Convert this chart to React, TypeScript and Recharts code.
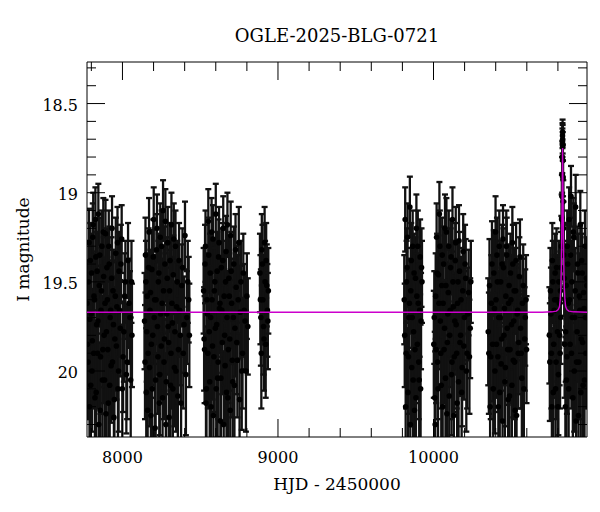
import React from "react";
import { ComposedChart, Scatter, Line, XAxis, YAxis, ErrorBar } from "recharts";

// [HJD - 2450000, I mag, error]
type Obs = [number, number, number];

const season2017: Obs[] = [
  [7772, 19.62, 0.24], [7779, 19.95, 0.32], [7785, 19.28, 0.19], [7790, 19.71, 0.26],
  [7796, 20.08, 0.34], [7801, 19.45, 0.22], [7806, 19.83, 0.29], [7812, 19.18, 0.18],
  [7817, 19.58, 0.24], [7823, 20.15, 0.36], [7829, 19.36, 0.21], [7834, 19.74, 0.27],
  [7840, 19.9, 0.31], [7845, 19.12, 0.17], [7851, 19.52, 0.23], [7857, 20.22, 0.38],
  [7862, 19.66, 0.25], [7868, 19.3, 0.2], [7874, 19.88, 0.3], [7879, 19.47, 0.22],
  [7885, 20.05, 0.34], [7891, 19.23, 0.19], [7897, 19.78, 0.28], [7903, 19.6, 0.24],
  [7909, 20.18, 0.37], [7915, 19.4, 0.21], [7921, 19.7, 0.26], [7927, 19.97, 0.32],
  [7933, 19.2, 0.18], [7939, 19.55, 0.23], [7945, 20.26, 0.39], [7951, 19.82, 0.29],
  [7957, 19.34, 0.2], [7964, 19.64, 0.25], [7971, 20.1, 0.35], [7978, 19.44, 0.22],
  [7986, 19.76, 0.27], [7995, 19.26, 0.19], [8004, 19.92, 0.31], [8014, 19.58, 0.24],
  [8025, 20.02, 0.33], [8036, 19.38, 0.21], [8048, 19.7, 0.26], [8058, 19.5, 0.23],
  [7775, 19.85, 0.3], [7782, 19.5, 0.23], [7788, 20.2, 0.39], [7793, 19.38, 0.21],
  [7799, 19.68, 0.26], [7804, 20.0, 0.34], [7809, 19.25, 0.19], [7815, 19.9, 0.31],
  [7820, 19.6, 0.25], [7826, 19.15, 0.18], [7831, 20.12, 0.37], [7837, 19.44, 0.22],
  [7842, 19.72, 0.27], [7848, 20.3, 0.41], [7854, 19.35, 0.21], [7859, 19.92, 0.32],
  [7865, 19.55, 0.24], [7871, 20.05, 0.35], [7877, 19.22, 0.19], [7882, 19.8, 0.29],
  [7888, 19.62, 0.25], [7894, 20.24, 0.4], [7900, 19.42, 0.22], [7906, 19.88, 0.3],
  [7912, 19.3, 0.2], [7918, 20.08, 0.36], [7924, 19.66, 0.26], [7930, 19.48, 0.23],
  [7936, 19.95, 0.32], [7942, 19.74, 0.27], [7948, 20.16, 0.38], [7954, 19.58, 0.24],
  [7961, 19.86, 0.3], [7968, 19.28, 0.2], [7975, 20.0, 0.34], [7982, 19.66, 0.26],
  [7990, 19.4, 0.22], [7999, 20.1, 0.36], [8009, 19.78, 0.28], [8019, 19.5, 0.23],
  [8030, 19.95, 0.32], [8042, 19.62, 0.25], [8053, 20.05, 0.35], [8061, 19.8, 0.29],
];

const season2018: Obs[] = [
  [8142, 19.72, 0.27], [8148, 19.35, 0.21], [8153, 20.12, 0.36], [8159, 19.58, 0.24],
  [8165, 19.9, 0.31], [8171, 19.22, 0.19], [8177, 19.66, 0.25], [8183, 20.25, 0.38],
  [8189, 19.43, 0.22], [8195, 19.8, 0.28], [8201, 19.15, 0.18], [8207, 19.6, 0.24],
  [8213, 20.05, 0.34], [8219, 19.32, 0.2], [8225, 19.75, 0.27], [8231, 19.5, 0.23],
  [8237, 20.18, 0.37], [8243, 19.25, 0.19], [8249, 19.86, 0.3], [8255, 19.62, 0.25],
  [8261, 19.1, 0.17], [8267, 19.95, 0.32], [8273, 19.4, 0.21], [8279, 20.3, 0.4],
  [8285, 19.68, 0.26], [8291, 19.28, 0.2], [8297, 19.84, 0.29], [8303, 19.55, 0.23],
  [8309, 20.08, 0.35], [8315, 19.18, 0.18], [8321, 19.73, 0.27], [8327, 19.46, 0.22],
  [8334, 19.98, 0.33], [8341, 19.3, 0.2], [8348, 19.64, 0.25], [8356, 20.14, 0.36],
  [8364, 19.38, 0.21], [8372, 19.8, 0.28], [8381, 19.52, 0.23], [8391, 19.9, 0.31],
  [8402, 19.24, 0.19], [8414, 19.7, 0.26], [8426, 19.6, 0.24],
  [8145, 19.95, 0.32], [8151, 19.5, 0.23], [8156, 19.78, 0.28], [8162, 20.22, 0.39],
  [8168, 19.42, 0.22], [8174, 19.98, 0.33], [8180, 19.56, 0.24], [8186, 19.85, 0.3],
  [8192, 20.1, 0.36], [8198, 19.36, 0.21], [8204, 19.7, 0.26], [8210, 20.32, 0.42],
  [8216, 19.6, 0.25], [8222, 19.2, 0.19], [8228, 19.92, 0.32], [8234, 19.45, 0.22],
  [8240, 20.02, 0.34], [8246, 19.68, 0.26], [8252, 19.3, 0.2], [8258, 20.15, 0.37],
  [8264, 19.55, 0.24], [8270, 19.82, 0.29], [8276, 19.16, 0.18], [8282, 20.06, 0.35],
  [8288, 19.48, 0.23], [8294, 19.75, 0.27], [8300, 20.26, 0.4], [8306, 19.38, 0.21],
  [8312, 19.9, 0.31], [8318, 19.62, 0.25], [8324, 20.1, 0.36], [8330, 19.26, 0.2],
  [8337, 19.78, 0.28], [8344, 20.0, 0.34], [8352, 19.5, 0.23], [8360, 19.88, 0.3],
  [8368, 19.66, 0.26], [8377, 20.18, 0.38], [8386, 19.42, 0.22], [8396, 19.74, 0.27],
  [8408, 20.02, 0.34], [8420, 19.5, 0.23], [8430, 19.8, 0.29],
];

const season2019: Obs[] = [
  [8522, 19.55, 0.24], [8528, 19.88, 0.3], [8534, 19.3, 0.2], [8540, 20.1, 0.35],
  [8546, 19.68, 0.26], [8552, 19.16, 0.18], [8558, 19.78, 0.28], [8564, 19.45, 0.22],
  [8570, 20.2, 0.38], [8576, 19.6, 0.24], [8582, 19.26, 0.19], [8588, 19.92, 0.31],
  [8594, 19.5, 0.23], [8600, 19.12, 0.17], [8606, 19.74, 0.27], [8612, 20.04, 0.33],
  [8618, 19.36, 0.21], [8624, 19.65, 0.25], [8630, 20.28, 0.39], [8636, 19.42, 0.22],
  [8642, 19.84, 0.29], [8648, 19.2, 0.18], [8654, 19.58, 0.24], [8660, 19.97, 0.32],
  [8666, 19.33, 0.2], [8672, 19.7, 0.26], [8678, 20.15, 0.36], [8684, 19.48, 0.23],
  [8690, 19.82, 0.29], [8696, 19.24, 0.19], [8702, 19.62, 0.25], [8709, 20.06, 0.34],
  [8716, 19.4, 0.21], [8723, 19.76, 0.27], [8731, 19.53, 0.23], [8739, 19.94, 0.32],
  [8748, 19.28, 0.2], [8757, 19.67, 0.26], [8767, 20.0, 0.33], [8777, 19.45, 0.22],
  [8788, 19.72, 0.27], [8800, 19.58, 0.24],
  [8525, 19.82, 0.29], [8531, 19.4, 0.22], [8537, 20.18, 0.38], [8543, 19.6, 0.25],
  [8549, 19.9, 0.31], [8555, 19.35, 0.21], [8561, 20.06, 0.35], [8567, 19.7, 0.26],
  [8573, 19.22, 0.19], [8579, 19.86, 0.3], [8585, 20.25, 0.4], [8591, 19.55, 0.24],
  [8597, 19.76, 0.27], [8603, 20.1, 0.36], [8609, 19.44, 0.22], [8615, 19.95, 0.32],
  [8621, 19.28, 0.2], [8627, 19.62, 0.25], [8633, 20.04, 0.34], [8639, 19.66, 0.26],
  [8645, 19.38, 0.21], [8651, 20.3, 0.41], [8657, 19.8, 0.28], [8663, 19.5, 0.23],
  [8669, 20.12, 0.36], [8675, 19.18, 0.18], [8681, 19.88, 0.3], [8687, 19.58, 0.24],
  [8693, 20.22, 0.39], [8699, 19.44, 0.22], [8706, 19.94, 0.32], [8713, 19.7, 0.26],
  [8720, 20.08, 0.35], [8727, 19.32, 0.2], [8735, 19.84, 0.29], [8744, 19.6, 0.25],
  [8753, 20.16, 0.37], [8762, 19.5, 0.23], [8772, 19.9, 0.31], [8783, 19.66, 0.26],
  [8794, 20.0, 0.34], [8806, 19.75, 0.27],
];

const season2020: Obs[] = [
  [8884, 19.45, 0.22], [8890, 19.7, 0.27], [8896, 19.32, 0.2], [8903, 19.6, 0.25],
  [8910, 19.82, 0.29], [8917, 19.5, 0.23], [8924, 19.38, 0.21], [8932, 19.66, 0.26],
  [8938, 19.55, 0.24],
  [8887, 19.6, 0.25], [8893, 19.9, 0.31], [8900, 19.4, 0.22], [8907, 19.75, 0.27],
  [8914, 19.28, 0.2], [8921, 19.85, 0.3], [8928, 19.52, 0.23], [8935, 19.72, 0.27],
];

const season2022: Obs[] = [
  [9812, 19.6, 0.25], [9818, 19.15, 0.18], [9824, 19.9, 0.31], [9830, 19.42, 0.22],
  [9836, 20.12, 0.36], [9842, 19.7, 0.27], [9848, 19.08, 0.17], [9854, 19.55, 0.24],
  [9860, 19.98, 0.33], [9866, 19.3, 0.2], [9872, 19.78, 0.28], [9878, 20.22, 0.38],
  [9884, 19.48, 0.23], [9890, 19.2, 0.19], [9896, 19.85, 0.3], [9902, 19.62, 0.25],
  [9908, 20.05, 0.34], [9914, 19.36, 0.21], [9920, 19.72, 0.27], [9926, 19.5, 0.23],
  [9815, 19.8, 0.29], [9821, 20.2, 0.39], [9827, 19.5, 0.23], [9833, 19.25, 0.19],
  [9839, 19.92, 0.32], [9845, 19.62, 0.25], [9851, 20.3, 0.41], [9857, 19.38, 0.21],
  [9863, 19.7, 0.26], [9869, 20.05, 0.35], [9875, 19.45, 0.22], [9881, 19.88, 0.3],
  [9887, 20.15, 0.37], [9893, 19.58, 0.24], [9899, 19.3, 0.2], [9905, 19.95, 0.32],
  [9911, 19.66, 0.26], [9917, 20.1, 0.36], [9923, 19.42, 0.22],
];

const season2023: Obs[] = [
  [10002, 19.85, 0.3], [10008, 20.15, 0.37], [10014, 19.58, 0.24], [10020, 19.25, 0.19],
  [10026, 19.95, 0.32], [10032, 19.46, 0.22], [10038, 19.12, 0.18], [10044, 19.72, 0.27],
  [10050, 20.08, 0.35], [10056, 19.35, 0.21], [10062, 19.62, 0.25], [10068, 19.88, 0.3],
  [10074, 19.2, 0.19], [10080, 19.52, 0.23], [10086, 20.24, 0.39], [10092, 19.68, 0.26],
  [10098, 19.3, 0.2], [10104, 19.8, 0.29], [10110, 19.42, 0.22], [10116, 20.02, 0.34],
  [10122, 19.15, 0.18], [10128, 19.64, 0.25], [10134, 19.92, 0.31], [10140, 19.38, 0.21],
  [10146, 19.74, 0.28], [10152, 20.18, 0.37], [10158, 19.5, 0.23], [10164, 19.27, 0.2],
  [10170, 19.84, 0.3], [10177, 19.6, 0.24], [10184, 19.98, 0.33], [10191, 19.33, 0.21],
  [10199, 19.7, 0.26], [10207, 19.48, 0.22], [10216, 19.9, 0.31], [10226, 19.56, 0.24],
  [10236, 19.76, 0.28],
  [10005, 19.7, 0.26], [10011, 20.3, 0.41], [10017, 19.88, 0.3], [10023, 19.45, 0.22],
  [10029, 20.1, 0.36], [10035, 19.62, 0.25], [10041, 19.3, 0.2], [10047, 19.9, 0.31],
  [10053, 19.52, 0.23], [10059, 20.2, 0.39], [10065, 19.4, 0.21], [10071, 19.76, 0.27],
  [10077, 20.04, 0.34], [10083, 19.22, 0.19], [10089, 19.84, 0.29], [10095, 19.56, 0.24],
  [10101, 20.14, 0.37], [10107, 19.66, 0.26], [10113, 19.36, 0.21], [10119, 19.95, 0.32],
  [10125, 19.5, 0.23], [10131, 20.25, 0.4], [10137, 19.72, 0.27], [10143, 19.28, 0.2],
  [10149, 19.9, 0.31], [10155, 19.62, 0.25], [10161, 20.06, 0.35], [10167, 19.44, 0.22],
  [10174, 19.8, 0.28], [10181, 20.12, 0.36], [10188, 19.55, 0.24], [10195, 19.86, 0.3],
  [10203, 19.4, 0.22], [10211, 20.0, 0.34], [10221, 19.68, 0.26], [10231, 19.92, 0.32],
  [10240, 19.5, 0.23],
];

const season2024: Obs[] = [
  [10352, 19.78, 0.3], [10360, 19.52, 0.26], [10368, 19.92, 0.35], [10376, 19.4, 0.24],
  [10384, 20.1, 0.38], [10392, 19.65, 0.27], [10399, 19.22, 0.2], [10405, 19.85, 0.3],
  [10411, 19.5, 0.23], [10417, 20.2, 0.38], [10423, 19.3, 0.2], [10429, 19.7, 0.26],
  [10435, 19.96, 0.32], [10441, 19.4, 0.22], [10447, 19.26, 0.19], [10453, 19.8, 0.28],
  [10459, 20.06, 0.35], [10465, 19.58, 0.24], [10471, 19.35, 0.21], [10477, 19.88, 0.31],
  [10483, 19.62, 0.25], [10489, 20.14, 0.36], [10495, 19.45, 0.22], [10501, 19.74, 0.27],
  [10507, 19.28, 0.2], [10513, 19.94, 0.32], [10519, 19.55, 0.24], [10525, 20.22, 0.38],
  [10531, 19.38, 0.21], [10538, 19.68, 0.26], [10545, 19.9, 0.31], [10552, 19.47, 0.22],
  [10560, 19.76, 0.28], [10568, 20.04, 0.34], [10577, 19.52, 0.23], [10586, 19.82, 0.29],
  [10595, 19.6, 0.25],
  [10356, 19.9, 0.34], [10364, 20.2, 0.4], [10372, 19.62, 0.27], [10380, 19.85, 0.32],
  [10388, 19.45, 0.24], [10395, 20.0, 0.35], [10402, 19.6, 0.25], [10408, 19.35, 0.21],
  [10414, 19.92, 0.31], [10420, 19.7, 0.26], [10426, 20.12, 0.37], [10432, 19.5, 0.23],
  [10438, 19.82, 0.29], [10444, 20.28, 0.41], [10450, 19.42, 0.22], [10456, 19.65, 0.26],
  [10462, 19.98, 0.33], [10468, 19.3, 0.2], [10474, 19.76, 0.28], [10480, 20.16, 0.37],
  [10486, 19.52, 0.23], [10492, 19.88, 0.3], [10498, 19.6, 0.25], [10504, 20.08, 0.35],
  [10510, 19.4, 0.22], [10516, 19.72, 0.27], [10522, 19.95, 0.32], [10528, 19.55, 0.24],
  [10534, 20.25, 0.4], [10541, 19.66, 0.26], [10548, 19.84, 0.29], [10556, 19.36, 0.21],
  [10564, 19.9, 0.31], [10572, 19.62, 0.25], [10581, 20.1, 0.36], [10590, 19.7, 0.27],
  [10598, 19.88, 0.3],
];

const season2025: Obs[] = [
  [10745, 19.8, 0.27], [10752, 19.55, 0.24], [10758, 19.9, 0.31], [10764, 19.38, 0.21],
  [10770, 20.12, 0.36], [10776, 19.66, 0.26], [10782, 19.45, 0.22], [10788, 19.95, 0.32],
  [10794, 19.6, 0.25], [10800, 20.2, 0.38], [10806, 19.5, 0.23], [10811, 19.8, 0.28],
  [10816, 19.55, 0.22], [10820, 19.42, 0.2], [10822, 19.3, 0.17], [10824, 19.15, 0.14],
  [10825.5, 19.02, 0.12], [10827, 18.9, 0.1], [10828, 18.8, 0.09], [10829, 18.72, 0.08],
  [10829.5, 18.68, 0.07], [10830, 18.66, 0.07], [10830.5, 18.7, 0.08], [10831, 18.74, 0.08],
  [10832, 18.82, 0.09], [10833, 18.92, 0.1], [10834.5, 19.05, 0.12], [10836, 19.2, 0.15],
  [10838, 19.35, 0.18], [10841, 19.48, 0.21], [10845, 19.6, 0.24], [10850, 19.78, 0.28],
  [10855, 20.05, 0.34], [10860, 19.3, 0.2], [10866, 19.62, 0.25], [10872, 19.15, 0.18],
  [10878, 19.85, 0.3], [10884, 19.02, 0.17], [10890, 19.5, 0.23], [10896, 20.15, 0.37],
  [10902, 19.25, 0.19], [10908, 19.7, 0.26], [10914, 19.08, 0.18], [10920, 19.95, 0.32],
  [10926, 19.4, 0.21], [10932, 20.25, 0.39], [10938, 19.58, 0.24], [10944, 19.18, 0.19],
  [10950, 19.82, 0.29], [10956, 19.45, 0.22], [10962, 20.08, 0.35], [10968, 19.65, 0.26],
  [10974, 19.3, 0.2], [10980, 19.9, 0.31], [10986, 19.52, 0.23],
  [10748, 19.95, 0.33], [10755, 19.68, 0.26], [10761, 20.2, 0.39], [10767, 19.5, 0.23],
  [10773, 19.85, 0.3], [10779, 19.6, 0.25], [10785, 20.1, 0.36], [10791, 19.42, 0.22],
  [10797, 19.78, 0.28], [10803, 20.02, 0.34], [10809, 19.62, 0.25], [10814, 19.9, 0.31],
  [10818, 19.7, 0.26], [10843, 19.85, 0.3], [10848, 20.2, 0.39], [10853, 19.52, 0.23],
  [10858, 19.92, 0.32], [10863, 19.4, 0.22], [10869, 20.1, 0.36], [10875, 19.6, 0.25],
  [10881, 19.35, 0.21], [10887, 19.9, 0.31], [10893, 19.7, 0.27], [10899, 19.22, 0.19],
  [10905, 20.0, 0.34], [10911, 19.55, 0.24], [10917, 20.28, 0.41], [10923, 19.78, 0.28],
  [10929, 19.45, 0.22], [10935, 19.95, 0.32], [10941, 19.66, 0.26], [10947, 20.12, 0.36],
  [10953, 19.38, 0.21], [10959, 19.84, 0.29], [10965, 19.56, 0.24], [10971, 20.05, 0.35],
  [10977, 19.7, 0.27], [10983, 19.48, 0.23],
];

// microlensing model (magenta curve)
const modelTimes = [
  7772, 10700, 10760, 10790, 10802, 10810, 10815, 10819, 10822, 10824, 10826, 10828, 10830,
  10832, 10834, 10836, 10838, 10841, 10845, 10850, 10858, 10870, 10900, 10987,
];
const modelMags = [
  19.67, 19.67, 19.668, 19.664, 19.655, 19.64, 19.6, 19.53, 19.42, 19.28, 19.12, 18.95, 18.75,
  18.95, 19.12, 19.28, 19.42, 19.53, 19.6, 19.64, 19.655, 19.664, 19.668, 19.67,
];

const xTicks = [7800, 8000, 8200, 8400, 8600, 8800, 9000, 9200, 9400, 9600, 9800, 10000, 10200, 10400, 10600, 10800];
const xLabels = [8000, 9000, 10000];
const yTicks = [
  18.3, 18.4, 18.5, 18.6, 18.7, 18.8, 18.9, 19, 19.1, 19.2, 19.3, 19.4, 19.5, 19.6, 19.7,
  19.8, 19.9, 20, 20.1, 20.2, 20.3,
];
const yLabels = [18.5, 19, 19.5, 20];

const observations = [
  ...season2017, ...season2018, ...season2019, ...season2020,
  ...season2022, ...season2023, ...season2024, ...season2025,
].map(([t, m, err]) => ({ t, m, err }));

const model = modelTimes.map((t, i) => ({ t, m: modelMags[i] }));

const FONT = "DejaVu Serif";
const PL = 87;
const PR = 587;
const PT = 62;
const PB = 437;
const MAJOR = 18;
const MINOR = 9;

const BottomTick = (props: any) => {
  const { x, payload } = props;
  const major = xLabels.includes(payload.value);
  return (
    <g>
      <line x1={x} x2={x} y1={PB} y2={PB - (major ? MAJOR : MINOR)} stroke="#000" />
      {major && (
        <text x={x} y={463} textAnchor="middle" fontFamily={FONT} fontSize={16} fill="#000">
          {payload.value}
        </text>
      )}
    </g>
  );
};

const TopTick = (props: any) => {
  const { x, payload } = props;
  const major = xLabels.includes(payload.value);
  return <line x1={x} x2={x} y1={PT} y2={PT + (major ? MAJOR : MINOR)} stroke="#000" />;
};

const LeftTick = (props: any) => {
  const { y, payload } = props;
  const major = yLabels.includes(payload.value);
  return (
    <g>
      <line x1={PL} x2={PL + (major ? MAJOR : MINOR)} y1={y} y2={y} stroke="#000" />
      {major && (
        <text x={78} y={y + 7} textAnchor="end" fontFamily={FONT} fontSize={16} fill="#000">
          {payload.value}
        </text>
      )}
    </g>
  );
};

const RightTick = (props: any) => {
  const { y, payload } = props;
  const major = yLabels.includes(payload.value);
  return <line x1={PR} x2={PR - (major ? MAJOR : MINOR)} y1={y} y2={y} stroke="#000" />;
};

const PointDot = (props: any) => <circle cx={props.cx} cy={props.cy} r={2.8} fill="#000" />;

const YTitle = () => (
  <text
    transform={`translate(23, ${(PT + PB) / 2}) rotate(-90)`}
    textAnchor="middle"
    dominantBaseline="central"
    fontFamily={FONT}
    fontSize={17}
    fill="#000"
  >
    I magnitude
  </text>
);

export default function App() {
  return (
    <div style={{ position: "absolute", left: 0, top: 0, width: 600, height: 512, background: "#fff" }}>
      <style>{`.recharts-errorBars, .recharts-errorBar, .recharts-scatter { clip-path: url(#plot-clip); }`}</style>
      <svg width={0} height={0} style={{ position: "absolute" }}>
        <defs>
          <clipPath id="plot-clip" clipPathUnits="userSpaceOnUse">
            <rect x={PL} y={PT} width={PR - PL} height={PB - PT} />
          </clipPath>
        </defs>
      </svg>
      <ComposedChart width={600} height={512} margin={{ top: 0, right: 0, bottom: 0, left: 0 }}>
        <XAxis
          xAxisId="b"
          type="number"
          dataKey="t"
          domain={[7772, 10987]}
          allowDataOverflow
          ticks={xTicks}
          interval={0}
          tickSize={0}
          tickLine={false}
          tick={BottomTick}
          axisLine={{ stroke: "#000" }}
          height={75}
          label={{ value: "HJD - 2450000", position: "insideBottom", offset: 22, fontFamily: FONT, fontSize: 17, fill: "#000" }}
        />
        <XAxis
          xAxisId="t"
          orientation="top"
          type="number"
          dataKey="t"
          domain={[7772, 10987]}
          allowDataOverflow
          ticks={xTicks}
          interval={0}
          tickSize={0}
          tickLine={false}
          tick={TopTick}
          axisLine={{ stroke: "#000" }}
          height={62}
          label={{ value: "OGLE-2025-BLG-0721", position: "insideBottom", offset: 20, fontFamily: FONT, fontSize: 18, fill: "#000" }}
        />
        <YAxis
          yAxisId="l"
          type="number"
          dataKey="m"
          domain={[18.267, 20.37]}
          reversed
          allowDataOverflow
          ticks={yTicks}
          interval={0}
          tickSize={0}
          tickLine={false}
          tick={LeftTick}
          axisLine={{ stroke: "#000" }}
          width={87}
          label={{ content: YTitle }}
        />
        <YAxis
          yAxisId="r"
          orientation="right"
          type="number"
          dataKey="m"
          domain={[18.267, 20.37]}
          reversed
          allowDataOverflow
          ticks={yTicks}
          interval={0}
          tickSize={0}
          tickLine={false}
          tick={RightTick}
          axisLine={{ stroke: "#000" }}
          width={13}
        />
        <Scatter
          xAxisId="b"
          yAxisId="l"
          data={observations}
          dataKey="m"
          fill="#000"
          shape={PointDot}
          isAnimationActive={false}
        >
          <ErrorBar dataKey="err" direction="y" width={3} stroke="#111" strokeWidth={2.3} isAnimationActive={false} />
        </Scatter>
        <Line
          xAxisId="t"
          yAxisId="r"
          data={model}
          dataKey="m"
          type="linear"
          stroke="#cc00cc"
          strokeWidth={1.4}
          dot={false}
          activeDot={false}
          isAnimationActive={false}
          zIndex={2000}
        />
      </ComposedChart>
    </div>
  );
}
